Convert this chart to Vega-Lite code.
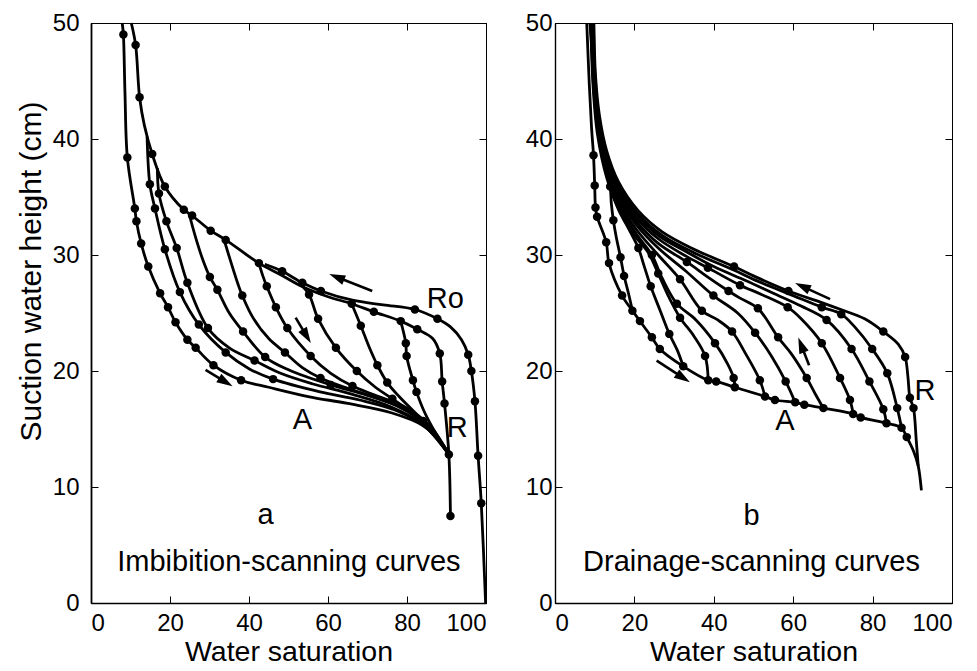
{
  "$schema": "https://vega.github.io/schema/vega-lite/v6.json",
  "background": "white",
  "padding": {"left": 15, "top": 10, "right": 5, "bottom": 0},
  "spacing": 32,
  "config": {
    "font": "Liberation Sans",
    "view": {"stroke": "black", "strokeWidth": 1},
    "axis": {"domainColor": "black", "tickColor": "black", "labelColor": "black", "titleColor": "black", "labelFont": "Liberation Sans", "titleFont": "Liberation Sans", "labelFontSize": 24, "titleFontSize": 28, "titleFontWeight": "normal", "grid": false, "tickSize": -7, "labelPadding": 19}
  },
  "datasets": {
    "A": [
      {"s":"PD","x":99.9,"y":0,"m":0},{"s":"PD","x":98.8,"y":8.6,"m":1},{"s":"PD","x":98.0,"y":12.7,"m":1},{"s":"PD","x":97.2,"y":17.4,"m":1},{"s":"PD","x":96.3,"y":20.0,"m":1},{"s":"PD","x":95.5,"y":21.4,"m":1},{"s":"PD","x":93.8,"y":22.7,"m":0},{"s":"PD","x":91.0,"y":23.8,"m":0},{"s":"PD","x":87.7,"y":24.5,"m":1},{"s":"PD","x":82.0,"y":25.3,"m":1},{"s":"PD","x":74.0,"y":25.7,"m":0},{"s":"PD","x":66.2,"y":26.1,"m":0},{"s":"PD","x":58.2,"y":26.9,"m":1},{"s":"PD","x":53.5,"y":27.6,"m":1},{"s":"PD","x":48.4,"y":28.6,"m":1},{"s":"PD","x":44.0,"y":29.2,"m":0},
      {"s":"MD","x":91.0,"y":7.5,"m":1},{"s":"MD","x":90.6,"y":12.8,"m":1},{"s":"MD","x":89.5,"y":17.2,"m":1},{"s":"MD","x":88.9,"y":19.1,"m":1},{"s":"MD","x":88.3,"y":21.5,"m":1},{"s":"MD","x":86.5,"y":22.8,"m":0},{"s":"MD","x":82.6,"y":23.6,"m":1},{"s":"MD","x":78.4,"y":24.3,"m":1},{"s":"MD","x":71.6,"y":25.1,"m":1},{"s":"MD","x":66.0,"y":25.8,"m":1},{"s":"MD","x":60.0,"y":26.4,"m":0},{"s":"MD","x":53.3,"y":27.3,"m":0},{"s":"MD","x":48.0,"y":28.3,"m":0},{"s":"MD","x":42.5,"y":29.3,"m":1},{"s":"MD","x":34.1,"y":31.3,"m":1},{"s":"MD","x":30.3,"y":32.1,"m":1},{"s":"MD","x":25.6,"y":33.4,"m":1},{"s":"MD","x":23.5,"y":33.9,"m":1},{"s":"MD","x":18.7,"y":35.9,"m":1},{"s":"MD","x":15.5,"y":38.7,"m":1},{"s":"MD","x":13.5,"y":41.2,"m":0},{"s":"MD","x":12.3,"y":43.6,"m":1},{"s":"MD","x":11.3,"y":48.1,"m":1},{"s":"MD","x":10.2,"y":50,"m":0},
      {"s":"MI","x":7.9,"y":50,"m":0},{"s":"MI","x":8.2,"y":49.0,"m":1},{"s":"MI","x":8.6,"y":44.0,"m":0},{"s":"MI","x":9.2,"y":38.4,"m":1},{"s":"MI","x":11.1,"y":34.0,"m":1},{"s":"MI","x":11.5,"y":32.9,"m":1},{"s":"MI","x":12.7,"y":31.0,"m":1},{"s":"MI","x":14.5,"y":29.0,"m":1},{"s":"MI","x":17.5,"y":26.7,"m":1},{"s":"MI","x":19.5,"y":25.5,"m":1},{"s":"MI","x":21.4,"y":24.2,"m":1},{"s":"MI","x":24.4,"y":22.7,"m":1},{"s":"MI","x":26.5,"y":22.0,"m":1},{"s":"MI","x":31.0,"y":20.5,"m":1},{"s":"MI","x":38.0,"y":19.2,"m":1},{"s":"MI","x":45.0,"y":18.6,"m":0},{"s":"MI","x":55.0,"y":17.8,"m":0},{"s":"MI","x":65.0,"y":17.2,"m":0},{"s":"MI","x":76.0,"y":16.4,"m":0},{"s":"MI","x":84.0,"y":15.3,"m":0},{"s":"MI","x":88.5,"y":13.9,"m":0},{"s":"MI","x":90.6,"y":12.8,"m":0},
      {"s":"S1","x":14.2,"y":40.2,"m":0},{"s":"S1","x":14.9,"y":36.1,"m":1},{"s":"S1","x":16.2,"y":34.0,"m":1},{"s":"S1","x":18.7,"y":30.5,"m":1},{"s":"S1","x":22.5,"y":26.8,"m":1},{"s":"S1","x":27.3,"y":24.0,"m":1},{"s":"S1","x":34.1,"y":21.6,"m":1},{"s":"S1","x":40.0,"y":20.2,"m":0},{"s":"S1","x":46.1,"y":19.3,"m":1},{"s":"S1","x":58.0,"y":18.2,"m":0},{"s":"S1","x":68.0,"y":17.5,"m":0},{"s":"S1","x":78.0,"y":16.5,"m":0},{"s":"S1","x":85.0,"y":15.1,"m":0},{"s":"S1","x":90.6,"y":12.8,"m":0},
      {"s":"S2","x":16.8,"y":37.5,"m":0},{"s":"S2","x":17.2,"y":35.3,"m":1},{"s":"S2","x":19.1,"y":32.9,"m":1},{"s":"S2","x":21.7,"y":30.6,"m":1},{"s":"S2","x":24.4,"y":27.6,"m":1},{"s":"S2","x":29.6,"y":23.7,"m":1},{"s":"S2","x":35.0,"y":22.0,"m":0},{"s":"S2","x":41.4,"y":20.9,"m":1},{"s":"S2","x":48.0,"y":19.8,"m":0},{"s":"S2","x":56.0,"y":18.9,"m":0},{"s":"S2","x":66.0,"y":18.0,"m":0},{"s":"S2","x":76.0,"y":16.9,"m":0},{"s":"S2","x":84.0,"y":15.4,"m":0},{"s":"S2","x":90.6,"y":12.8,"m":0},
      {"s":"S3","x":24.8,"y":33.6,"m":0},{"s":"S3","x":26.5,"y":31.5,"m":0},{"s":"S3","x":28.4,"y":29.5,"m":0},{"s":"S3","x":30.1,"y":28.1,"m":1},{"s":"S3","x":32.0,"y":27.0,"m":1},{"s":"S3","x":35.0,"y":25.0,"m":0},{"s":"S3","x":38.5,"y":23.4,"m":1},{"s":"S3","x":44.1,"y":21.2,"m":1},{"s":"S3","x":50.0,"y":20.1,"m":0},{"s":"S3","x":60.7,"y":18.8,"m":1},{"s":"S3","x":70.0,"y":17.9,"m":0},{"s":"S3","x":78.0,"y":16.9,"m":0},{"s":"S3","x":85.0,"y":15.3,"m":0},{"s":"S3","x":90.6,"y":12.8,"m":0},
      {"s":"S4","x":33.7,"y":31.3,"m":0},{"s":"S4","x":35.5,"y":29.3,"m":0},{"s":"S4","x":37.2,"y":27.5,"m":0},{"s":"S4","x":38.3,"y":26.5,"m":1},{"s":"S4","x":41.0,"y":24.6,"m":0},{"s":"S4","x":45.0,"y":22.8,"m":0},{"s":"S4","x":49.1,"y":21.6,"m":1},{"s":"S4","x":53.5,"y":20.3,"m":0},{"s":"S4","x":58.1,"y":19.4,"m":1},{"s":"S4","x":65.0,"y":18.5,"m":0},{"s":"S4","x":72.0,"y":17.7,"m":0},{"s":"S4","x":80.0,"y":16.6,"m":0},{"s":"S4","x":86.0,"y":15.0,"m":0},{"s":"S4","x":90.6,"y":12.8,"m":0},
      {"s":"S5","x":42.5,"y":29.3,"m":0},{"s":"S5","x":43.5,"y":28.2,"m":0},{"s":"S5","x":44.5,"y":27.3,"m":1},{"s":"S5","x":46.8,"y":25.5,"m":1},{"s":"S5","x":49.7,"y":23.7,"m":1},{"s":"S5","x":55.6,"y":21.3,"m":1},{"s":"S5","x":60.7,"y":19.8,"m":0},{"s":"S5","x":66.2,"y":18.7,"m":1},{"s":"S5","x":72.0,"y":17.9,"m":0},{"s":"S5","x":80.0,"y":16.8,"m":0},{"s":"S5","x":86.0,"y":15.2,"m":0},{"s":"S5","x":90.6,"y":12.8,"m":0},
      {"s":"S6","x":53.3,"y":27.4,"m":0},{"s":"S6","x":55.2,"y":26.6,"m":1},{"s":"S6","x":57.5,"y":24.5,"m":1},{"s":"S6","x":62.0,"y":22.0,"m":1},{"s":"S6","x":67.3,"y":20.0,"m":1},{"s":"S6","x":72.0,"y":18.6,"m":0},{"s":"S6","x":76.3,"y":17.6,"m":1},{"s":"S6","x":85.0,"y":15.4,"m":0},{"s":"S6","x":90.6,"y":12.8,"m":0},
      {"s":"S7","x":66.0,"y":25.8,"m":0},{"s":"S7","x":68.3,"y":23.9,"m":1},{"s":"S7","x":70.5,"y":22.0,"m":0},{"s":"S7","x":72.5,"y":20.5,"m":1},{"s":"S7","x":75.0,"y":19.0,"m":1},{"s":"S7","x":78.0,"y":17.8,"m":0},{"s":"S7","x":84.1,"y":15.7,"m":1},{"s":"S7","x":88.0,"y":14.2,"m":0},{"s":"S7","x":90.6,"y":12.8,"m":0},
      {"s":"S8","x":78.4,"y":24.3,"m":0},{"s":"S8","x":79.7,"y":22.4,"m":1},{"s":"S8","x":79.9,"y":21.3,"m":1},{"s":"S8","x":81.5,"y":19.2,"m":1},{"s":"S8","x":82.4,"y":18.2,"m":1},{"s":"S8","x":84.5,"y":16.4,"m":0},{"s":"S8","x":87.5,"y":14.5,"m":0},{"s":"S8","x":90.6,"y":12.8,"m":0}
    ],
    "B": [
      {"s":"L","x":8.0,"y":50,"m":0},{"s":"L","x":8.6,"y":45,"m":0},{"s":"L","x":9.2,"y":41,"m":0},{"s":"L","x":9.7,"y":38.6,"m":1},{"s":"L","x":10.0,"y":36.0,"m":1},{"s":"L","x":10.2,"y":34.1,"m":1},{"s":"L","x":10.6,"y":33.3,"m":1},{"s":"L","x":12.9,"y":31.1,"m":1},{"s":"L","x":13.6,"y":29.3,"m":1},{"s":"L","x":16.9,"y":26.5,"m":1},{"s":"L","x":19.5,"y":25.2,"m":1},{"s":"L","x":21.4,"y":24.3,"m":1},{"s":"L","x":24.4,"y":22.9,"m":1},{"s":"L","x":26.4,"y":21.9,"m":1},{"s":"L","x":32.3,"y":20.4,"m":1},{"s":"L","x":38.6,"y":19.2,"m":1},{"s":"L","x":40.6,"y":19.1,"m":1},{"s":"L","x":45.3,"y":18.6,"m":1},{"s":"L","x":52.9,"y":17.8,"m":1},{"s":"L","x":55.4,"y":17.5,"m":1},{"s":"L","x":60.5,"y":17.3,"m":1},{"s":"L","x":62.8,"y":17.1,"m":1},{"s":"L","x":67.6,"y":16.8,"m":1},{"s":"L","x":75.1,"y":16.3,"m":1},{"s":"L","x":77.0,"y":16.0,"m":1},{"s":"L","x":83.5,"y":15.5,"m":1},{"s":"L","x":87.3,"y":15.1,"m":1},{"s":"L","x":88.6,"y":14.3,"m":1},{"s":"L","x":90.3,"y":13.1,"m":0},{"s":"L","x":91.5,"y":11.8,"m":0},{"s":"L","x":92.3,"y":9.7,"m":0},
      {"s":"U","x":9.8,"y":50,"m":0},{"s":"U","x":10.2,"y":45.5,"m":0},{"s":"U","x":11.2,"y":42.0,"m":0},{"s":"U","x":13.0,"y":39.0,"m":0},{"s":"U","x":16.0,"y":36.3,"m":0},{"s":"U","x":21.0,"y":33.8,"m":0},{"s":"U","x":27.0,"y":32.0,"m":0},{"s":"U","x":35.0,"y":30.5,"m":0},{"s":"U","x":45.1,"y":29.0,"m":1},{"s":"U","x":50.0,"y":28.2,"m":0},{"s":"U","x":58.8,"y":26.9,"m":1},{"s":"U","x":67.2,"y":25.9,"m":0},{"s":"U","x":72.0,"y":25.3,"m":0},{"s":"U","x":78.0,"y":24.5,"m":0},{"s":"U","x":82.7,"y":23.4,"m":1},{"s":"U","x":86.5,"y":22.3,"m":0},{"s":"U","x":88.2,"y":21.2,"m":1},{"s":"U","x":88.9,"y":19.5,"m":0},{"s":"U","x":89.4,"y":17.7,"m":1},{"s":"U","x":90.3,"y":16.8,"m":1},{"s":"U","x":91.0,"y":14.0,"m":0},{"s":"U","x":91.5,"y":11.8,"m":0},
      {"s":"C1","x":87.3,"y":15.1,"m":0},{"s":"C1","x":86.2,"y":16.8,"m":1},{"s":"C1","x":83.7,"y":19.8,"m":1},{"s":"C1","x":79.9,"y":21.9,"m":1},{"s":"C1","x":75.5,"y":23.8,"m":0},{"s":"C1","x":72.1,"y":24.9,"m":1},{"s":"C1","x":67.2,"y":25.5,"m":1},{"s":"C1","x":60.0,"y":26.5,"m":0},{"s":"C1","x":50.0,"y":27.9,"m":0},{"s":"C1","x":45.0,"y":28.7,"m":0},{"s":"C1","x":35.0,"y":30.2,"m":0},{"s":"C1","x":27.0,"y":31.7,"m":0},{"s":"C1","x":21.0,"y":33.5,"m":0},{"s":"C1","x":16.0,"y":36.0,"m":0},{"s":"C1","x":13.0,"y":38.7,"m":0},{"s":"C1","x":11.1,"y":41.8,"m":0},{"s":"C1","x":10.1,"y":45.4,"m":0},{"s":"C1","x":9.7,"y":50,"m":0},
      {"s":"C2","x":83.5,"y":15.5,"m":0},{"s":"C2","x":82.7,"y":16.7,"m":1},{"s":"C2","x":79.2,"y":19.1,"m":1},{"s":"C2","x":74.7,"y":21.9,"m":1},{"s":"C2","x":68.4,"y":24.4,"m":1},{"s":"C2","x":62.0,"y":25.6,"m":0},{"s":"C2","x":55.0,"y":26.7,"m":0},{"s":"C2","x":48.0,"y":27.8,"m":0},{"s":"C2","x":40.0,"y":29.0,"m":0},{"s":"C2","x":33.0,"y":30.3,"m":0},{"s":"C2","x":26.0,"y":31.7,"m":0},{"s":"C2","x":20.5,"y":33.5,"m":0},{"s":"C2","x":16.0,"y":35.8,"m":0},{"s":"C2","x":13.0,"y":38.5,"m":0},{"s":"C2","x":11.0,"y":41.6,"m":0},{"s":"C2","x":10.0,"y":45.3,"m":0},{"s":"C2","x":9.6,"y":50,"m":0},
      {"s":"C3","x":75.1,"y":16.3,"m":0},{"s":"C3","x":74.3,"y":17.5,"m":1},{"s":"C3","x":71.8,"y":19.4,"m":1},{"s":"C3","x":67.2,"y":22.4,"m":1},{"s":"C3","x":62.0,"y":24.5,"m":0},{"s":"C3","x":58.6,"y":25.5,"m":1},{"s":"C3","x":52.0,"y":26.6,"m":0},{"s":"C3","x":46.6,"y":27.4,"m":1},{"s":"C3","x":38.5,"y":28.9,"m":1},{"s":"C3","x":33.0,"y":29.9,"m":0},{"s":"C3","x":26.0,"y":31.4,"m":0},{"s":"C3","x":20.5,"y":33.2,"m":0},{"s":"C3","x":16.0,"y":35.5,"m":0},{"s":"C3","x":13.0,"y":38.2,"m":0},{"s":"C3","x":11.0,"y":41.4,"m":0},{"s":"C3","x":10.0,"y":45.1,"m":0},{"s":"C3","x":9.5,"y":50,"m":0},
      {"s":"C4","x":67.6,"y":16.8,"m":0},{"s":"C4","x":65.6,"y":18.0,"m":0},{"s":"C4","x":63.4,"y":19.4,"m":1},{"s":"C4","x":59.5,"y":21.5,"m":0},{"s":"C4","x":56.2,"y":22.9,"m":1},{"s":"C4","x":51.1,"y":25.4,"m":1},{"s":"C4","x":46.5,"y":26.3,"m":0},{"s":"C4","x":43.7,"y":26.9,"m":1},{"s":"C4","x":38.5,"y":28.1,"m":0},{"s":"C4","x":33.2,"y":29.4,"m":1},{"s":"C4","x":26.0,"y":31.0,"m":0},{"s":"C4","x":20.5,"y":32.9,"m":0},{"s":"C4","x":16.0,"y":35.2,"m":0},{"s":"C4","x":13.0,"y":37.9,"m":0},{"s":"C4","x":11.0,"y":41.2,"m":0},{"s":"C4","x":10.0,"y":45.0,"m":0},{"s":"C4","x":9.4,"y":50,"m":0},
      {"s":"C5","x":60.5,"y":17.3,"m":0},{"s":"C5","x":58.1,"y":19.1,"m":1},{"s":"C5","x":54.5,"y":21.3,"m":0},{"s":"C5","x":50.4,"y":23.3,"m":1},{"s":"C5","x":46.0,"y":25.0,"m":0},{"s":"C5","x":39.9,"y":26.5,"m":1},{"s":"C5","x":33.0,"y":28.6,"m":0},{"s":"C5","x":26.0,"y":30.6,"m":0},{"s":"C5","x":20.5,"y":32.6,"m":0},{"s":"C5","x":16.0,"y":34.9,"m":0},{"s":"C5","x":13.0,"y":37.6,"m":0},{"s":"C5","x":11.0,"y":41.0,"m":0},{"s":"C5","x":9.9,"y":44.9,"m":0},{"s":"C5","x":9.3,"y":50,"m":0},
      {"s":"C6","x":52.9,"y":17.8,"m":0},{"s":"C6","x":51.6,"y":19.2,"m":1},{"s":"C6","x":48.0,"y":21.5,"m":0},{"s":"C6","x":44.6,"y":23.4,"m":1},{"s":"C6","x":41.0,"y":24.4,"m":0},{"s":"C6","x":37.0,"y":25.2,"m":1},{"s":"C6","x":31.5,"y":27.9,"m":1},{"s":"C6","x":26.0,"y":30.0,"m":0},{"s":"C6","x":20.5,"y":32.2,"m":0},{"s":"C6","x":16.0,"y":34.6,"m":0},{"s":"C6","x":13.0,"y":37.3,"m":0},{"s":"C6","x":10.9,"y":40.8,"m":0},{"s":"C6","x":9.8,"y":44.8,"m":0},{"s":"C6","x":9.2,"y":50,"m":0},
      {"s":"C7","x":45.3,"y":18.6,"m":0},{"s":"C7","x":45.0,"y":19.4,"m":1},{"s":"C7","x":43.5,"y":20.6,"m":0},{"s":"C7","x":40.3,"y":22.4,"m":1},{"s":"C7","x":35.5,"y":24.4,"m":0},{"s":"C7","x":30.7,"y":25.8,"m":1},{"s":"C7","x":27.0,"y":28.0,"m":0},{"s":"C7","x":24.4,"y":30.0,"m":1},{"s":"C7","x":20.5,"y":31.8,"m":0},{"s":"C7","x":16.0,"y":34.3,"m":0},{"s":"C7","x":13.0,"y":37.0,"m":0},{"s":"C7","x":10.8,"y":40.6,"m":0},{"s":"C7","x":9.7,"y":44.6,"m":0},{"s":"C7","x":9.1,"y":50,"m":0},
      {"s":"C8","x":38.6,"y":19.2,"m":0},{"s":"C8","x":37.8,"y":21.3,"m":1},{"s":"C8","x":35.0,"y":23.0,"m":0},{"s":"C8","x":31.5,"y":24.6,"m":1},{"s":"C8","x":28.5,"y":26.5,"m":0},{"s":"C8","x":26.0,"y":28.4,"m":1},{"s":"C8","x":23.5,"y":30.2,"m":0},{"s":"C8","x":20.0,"y":31.7,"m":0},{"s":"C8","x":16.0,"y":34.0,"m":0},{"s":"C8","x":13.0,"y":36.7,"m":0},{"s":"C8","x":10.7,"y":40.4,"m":0},{"s":"C8","x":9.6,"y":44.5,"m":0},{"s":"C8","x":9.0,"y":50,"m":0},
      {"s":"C9","x":32.3,"y":20.4,"m":0},{"s":"C9","x":30.8,"y":21.8,"m":0},{"s":"C9","x":28.8,"y":23.2,"m":1},{"s":"C9","x":26.5,"y":25.2,"m":0},{"s":"C9","x":24.1,"y":27.3,"m":1},{"s":"C9","x":22.5,"y":29.0,"m":0},{"s":"C9","x":21.0,"y":30.6,"m":1},{"s":"C9","x":18.5,"y":32.3,"m":0},{"s":"C9","x":16.0,"y":33.9,"m":0},{"s":"C9","x":13.5,"y":36.4,"m":0},{"s":"C9","x":11.5,"y":39.6,"m":0},{"s":"C9","x":10.2,"y":43.4,"m":0},{"s":"C9","x":9.0,"y":50,"m":0},
      {"s":"C10","x":19.5,"y":25.2,"m":0},{"s":"C10","x":18.5,"y":26.7,"m":0},{"s":"C10","x":17.4,"y":28.2,"m":1},{"s":"C10","x":16.5,"y":29.8,"m":1},{"s":"C10","x":15.4,"y":31.6,"m":0},{"s":"C10","x":14.7,"y":33.0,"m":1},{"s":"C10","x":14.2,"y":34.4,"m":0},{"s":"C10","x":13.9,"y":35.9,"m":1},{"s":"C10","x":12.2,"y":39.0,"m":0},{"s":"C10","x":10.7,"y":42.5,"m":0},{"s":"C10","x":9.6,"y":46.5,"m":0},{"s":"C10","x":8.8,"y":50,"m":0}
    ],
    "arrA": [
      {"id":1,"x":71.2,"y":26.9,"x2":62.2,"y2":28.1},
      {"id":2,"x":51.8,"y":24.6,"x2":54.6,"y2":23.0},
      {"id":3,"x":29.0,"y":20.1,"x2":34.1,"y2":19.05}
    ],
    "arrB": [
      {"id":1,"x":69.3,"y":26.2,"x2":62.3,"y2":27.3},
      {"id":2,"x":64.0,"y":20.5,"x2":62.0,"y2":22.25},
      {"id":3,"x":25.6,"y":20.9,"x2":32.3,"y2":19.4}
    ],
    "txtA": [
      {"t":"Ro","x":89.7,"y":26.2},{"t":"A","x":53.5,"y":15.8},{"t":"R","x":92.7,"y":15.1},{"t":"a","x":44.2,"y":7.6},{"t":"Imbibition-scanning curves","x":50.1,"y":3.5}
    ],
    "txtB": [
      {"t":"R","x":93.2,"y":18.3},{"t":"A","x":57.9,"y":15.7},{"t":"b","x":49.5,"y":7.5},{"t":"Drainage-scanning curves","x":49.5,"y":3.5}
    ]
  },
  "hconcat": [
    {
      "width": 395, "height": 580,
      "resolve": {"axis": {"x": "independent", "y": "independent"}},
      "layer": [
        {
          "data": {"name": "A"},
          "mark": {"type": "line", "color": "black", "strokeWidth": 2.8, "interpolate": "catmull-rom"},
          "encoding": {
            "x": {"field": "x", "type": "quantitative", "scale": {"domain": [0, 100], "nice": false}, "axis": {"orient": "bottom", "values": [0,20,40,60,80,100], "title": "Water saturation", "titleFontSize": 28.5, "labelPadding": 15, "titlePadding": 2, "domainWidth": 1.6}},
            "y": {"field": "y", "type": "quantitative", "scale": {"domain": [0, 50], "nice": false}, "axis": {"orient": "left", "values": [0,10,20,30,40,50], "title": "Suction water height (cm)", "titlePadding": 6, "titleFontSize": 30, "titleY": 248, "domainWidth": 1.8}},
            "detail": {"field": "s"},
            "order": {"field": "y", "sort": "descending"}
          }
        },
        {
          "data": {"name": "A"},
          "transform": [{"filter": "datum.m == 1"}],
          "mark": {"type": "point", "filled": true, "color": "black", "size": 72, "opacity": 1},
          "encoding": {
            "x": {"field": "x", "type": "quantitative", "scale": {"domain": [0, 100], "nice": false}, "axis": {"orient": "top", "values": [0,20,40,60,80,100], "labels": false, "title": null}},
            "y": {"field": "y", "type": "quantitative", "scale": {"domain": [0, 50], "nice": false}, "axis": {"orient": "right", "values": [0,10,20,30,40,50], "labels": false, "title": null}}
          }
        },
        {
          "data": {"name": "arrA"},
          "mark": {"type": "rule", "color": "black", "strokeWidth": 2.6},
          "encoding": {
            "x": {"field": "x", "type": "quantitative", "axis": null}, "y": {"field": "y", "type": "quantitative", "axis": null},
            "x2": {"field": "x2"}, "y2": {"field": "y2"}
          }
        },
        {
          "data": {"name": "arrA"}, "transform": [{"filter": "datum.id == 1"}],
          "mark": {"type": "point", "shape": "M0,-1L0.62,1L-0.62,1Z", "filled": true, "color": "black", "size": 256, "opacity": 1, "angle": 292},
          "encoding": {"x": {"field": "x2", "type": "quantitative", "axis": null}, "y": {"field": "y2", "type": "quantitative", "axis": null}}
        },
        {
          "data": {"name": "arrA"}, "transform": [{"filter": "datum.id == 2"}],
          "mark": {"type": "point", "shape": "M0,-1L0.62,1L-0.62,1Z", "filled": true, "color": "black", "size": 256, "opacity": 1, "angle": 149},
          "encoding": {"x": {"field": "x2", "type": "quantitative", "axis": null}, "y": {"field": "y2", "type": "quantitative", "axis": null}}
        },
        {
          "data": {"name": "arrA"}, "transform": [{"filter": "datum.id == 3"}],
          "mark": {"type": "point", "shape": "M0,-1L0.62,1L-0.62,1Z", "filled": true, "color": "black", "size": 256, "opacity": 1, "angle": 121},
          "encoding": {"x": {"field": "x2", "type": "quantitative", "axis": null}, "y": {"field": "y2", "type": "quantitative", "axis": null}}
        },
        {
          "data": {"name": "txtA"},
          "mark": {"type": "text", "font": "Liberation Sans", "fontSize": 29, "color": "black", "align": "center", "baseline": "middle"},
          "encoding": {"x": {"field": "x", "type": "quantitative", "axis": null}, "y": {"field": "y", "type": "quantitative", "axis": null}, "text": {"field": "t"}}
        }
      ]
    },
    {
      "width": 397, "height": 580,
      "resolve": {"axis": {"x": "independent", "y": "independent"}},
      "layer": [
        {
          "data": {"name": "B"},
          "mark": {"type": "line", "color": "black", "strokeWidth": 2.8, "interpolate": "catmull-rom"},
          "encoding": {
            "x": {"field": "x", "type": "quantitative", "scale": {"domain": [0, 100], "nice": false}, "axis": {"orient": "bottom", "values": [0,20,40,60,80,100], "title": "Water saturation", "titleFontSize": 28.5, "labelPadding": 15, "titlePadding": 2, "domainWidth": 1.6}},
            "y": {"field": "y", "type": "quantitative", "scale": {"domain": [0, 50], "nice": false}, "axis": {"orient": "left", "values": [0,10,20,30,40,50], "title": null, "labelPadding": 10, "domainWidth": 1.4}},
            "detail": {"field": "s"},
            "order": {"field": "y", "sort": "descending"}
          }
        },
        {
          "data": {"name": "B"},
          "transform": [{"filter": "datum.m == 1"}],
          "mark": {"type": "point", "filled": true, "color": "black", "size": 72, "opacity": 1},
          "encoding": {
            "x": {"field": "x", "type": "quantitative", "scale": {"domain": [0, 100], "nice": false}, "axis": {"orient": "top", "values": [0,20,40,60,80,100], "labels": false, "title": null}},
            "y": {"field": "y", "type": "quantitative", "scale": {"domain": [0, 50], "nice": false}, "axis": {"orient": "right", "values": [0,10,20,30,40,50], "labels": false, "title": null}}
          }
        },
        {
          "data": {"name": "arrB"},
          "mark": {"type": "rule", "color": "black", "strokeWidth": 2.6},
          "encoding": {
            "x": {"field": "x", "type": "quantitative", "axis": null}, "y": {"field": "y", "type": "quantitative", "axis": null},
            "x2": {"field": "x2"}, "y2": {"field": "y2"}
          }
        },
        {
          "data": {"name": "arrB"}, "transform": [{"filter": "datum.id == 1"}],
          "mark": {"type": "point", "shape": "M0,-1L0.62,1L-0.62,1Z", "filled": true, "color": "black", "size": 256, "opacity": 1, "angle": 295},
          "encoding": {"x": {"field": "x2", "type": "quantitative", "axis": null}, "y": {"field": "y2", "type": "quantitative", "axis": null}}
        },
        {
          "data": {"name": "arrB"}, "transform": [{"filter": "datum.id == 2"}],
          "mark": {"type": "point", "shape": "M0,-1L0.62,1L-0.62,1Z", "filled": true, "color": "black", "size": 256, "opacity": 1, "angle": 339},
          "encoding": {"x": {"field": "x2", "type": "quantitative", "axis": null}, "y": {"field": "y2", "type": "quantitative", "axis": null}}
        },
        {
          "data": {"name": "arrB"}, "transform": [{"filter": "datum.id == 3"}],
          "mark": {"type": "point", "shape": "M0,-1L0.62,1L-0.62,1Z", "filled": true, "color": "black", "size": 256, "opacity": 1, "angle": 123},
          "encoding": {"x": {"field": "x2", "type": "quantitative", "axis": null}, "y": {"field": "y2", "type": "quantitative", "axis": null}}
        },
        {
          "data": {"name": "txtB"},
          "mark": {"type": "text", "font": "Liberation Sans", "fontSize": 29, "color": "black", "align": "center", "baseline": "middle"},
          "encoding": {"x": {"field": "x", "type": "quantitative", "axis": null}, "y": {"field": "y", "type": "quantitative", "axis": null}, "text": {"field": "t"}}
        }
      ]
    }
  ]
}
